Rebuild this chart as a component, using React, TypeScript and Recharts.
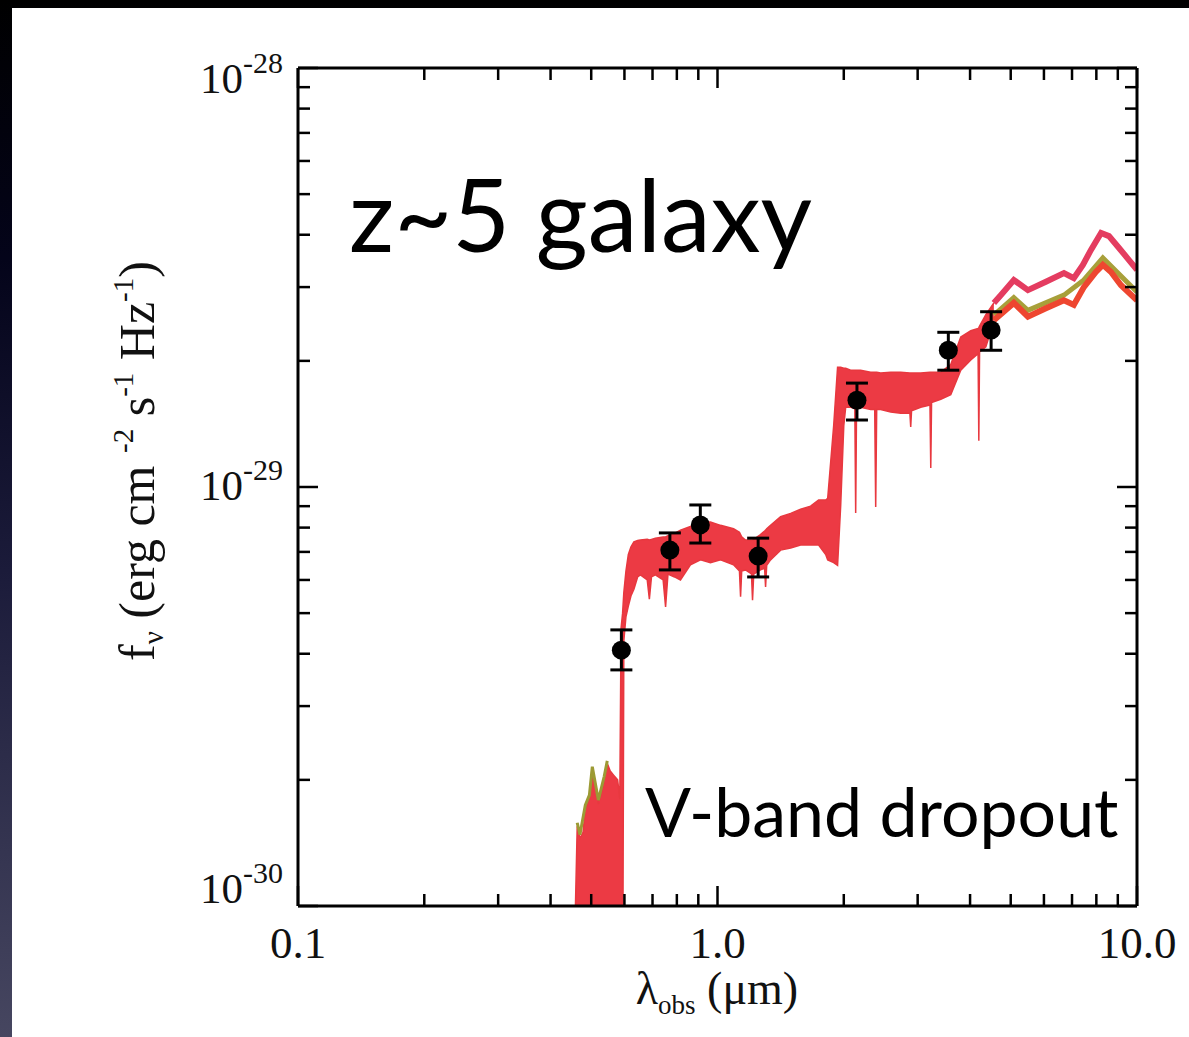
import React from 'react';
import { ComposedChart, XAxis, YAxis, Area, Line, Scatter, ErrorBar } from 'recharts';

// wavelength in microns, flux density in units of 1e-30 erg cm^-2 s^-1 Hz^-1

// envelope of the overlapping model spectra (lower / upper edge)
const bandWave = [
  0.446, 0.455, 0.463, 0.47, 0.478, 0.484, 0.495, 0.503, 0.512, 0.52, 0.528, 0.537, 0.546, 0.555,
  0.566, 0.578, 0.585, 0.589, 0.594, 0.598, 0.605, 0.613, 0.622, 0.632, 0.645, 0.655, 0.68, 0.688,
  0.696, 0.711, 0.742, 0.752, 0.762, 0.79, 0.816, 0.862, 0.911, 0.962, 1.017, 1.092, 1.128, 1.135,
  1.142, 1.166, 1.205, 1.212, 1.22, 1.266, 1.295, 1.302, 1.31, 1.338, 1.414, 1.494, 1.578, 1.667,
  1.742, 1.811, 1.831, 1.892, 1.933, 1.966, 2.0, 2.021, 2.077, 2.125, 2.135, 2.145, 2.194, 2.318,
  2.37, 2.383, 2.396, 2.449, 2.588, 2.734, 2.875, 2.888, 2.901, 3.051, 3.21, 3.224, 3.238, 3.406,
  3.598, 3.801, 4.016, 4.18, 4.197, 4.214, 4.362, 4.558,
];
const bandLow = [
  0.5, 0.5, 0.5, 0.5, 0.5, 0.5, 0.5, 0.5, 0.5, 0.5, 0.5, 0.5, 0.5, 0.5,
  0.5, 0.5, 0.5, 0.5, 0.5, 4.3, 4.9, 5.2, 5.5, 5.7, 6.1, 6.17, 6.0, 5.4,
  6.1, 6.17, 6.0, 5.17, 6.2, 6.1, 6.0, 6.52, 6.7, 6.6, 6.7, 6.52, 6.3, 5.47,
  6.3, 6.34, 6.2, 5.37, 6.2, 6.34, 6.4, 5.77, 6.5, 6.7, 7.07, 7.15, 7.27, 7.27,
  7.27, 6.9, 6.7, 6.6, 6.5, 9.0, 14.0, 15.5, 15.5, 15.4, 8.67, 15.4, 15.5, 15.3,
  15.3, 8.96, 15.3, 15.3, 15.1, 15.0, 15.0, 13.9, 15.2, 15.5, 15.7, 11.1, 15.9, 16.2,
  16.6, 19.0, 20.1, 20.8, 12.9, 21.0, 21.6, 24.9,
];
const bandHigh = [
  0.5, 0.7, 1.55, 1.45, 1.5, 1.7, 1.8, 2.11, 1.95, 1.75, 1.85, 2.0, 2.19, 2.1,
  2.05, 2.0, 1.8, 4.6, 5.0, 5.6, 6.3, 6.9, 7.2, 7.4, 7.45, 7.47, 7.5, 7.47,
  7.5, 7.55, 7.6, 7.6, 7.65, 7.75, 7.89, 8.05, 8.25, 8.25, 8.1, 7.95, 7.8, 7.7,
  7.6, 7.47, 7.47, 7.47, 7.5, 7.7, 7.85, 7.89, 7.95, 8.1, 8.5, 8.65, 8.85, 9.0,
  9.31, 9.31, 9.4, 14.0, 19.3, 19.3, 19.2, 19.2, 19.0, 19.0, 19.0, 19.0, 19.0, 18.8,
  18.8, 18.8, 18.8, 18.7, 18.8, 18.8, 18.7, 18.7, 18.7, 18.7, 18.8, 18.8, 18.8, 18.8,
  19.6, 22.8, 23.6, 23.9, 24.0, 24.2, 25.8, 27.5,
];

// individual templates where they separate in the mid-infrared
const pinkWave = [4.558, 4.734, 5.086, 5.495, 6.065, 6.697, 7.07, 7.43, 7.767, 8.21, 8.574, 9.06, 9.57, 10.0];
const pinkFlux = [27.5, 28.7, 31.2, 29.5, 30.9, 32.4, 31.5, 33.9, 36.8, 40.4, 39.7, 37.2, 34.8, 33.0];
const orangeWave = [4.558, 5.086, 5.495, 6.065, 6.697, 7.07, 7.47, 7.98, 8.29, 8.67, 9.16, 10.0];
const orangeFlux = [25.0, 27.5, 25.5, 26.7, 27.9, 27.2, 30.0, 32.6, 33.9, 32.6, 30.3, 27.9];
const oliveWave = [4.558, 5.086, 5.495, 6.697, 7.47, 8.29, 10.0];
const oliveFlux = [25.7, 28.3, 26.4, 28.7, 31.2, 35.2, 29.2];

// olive template peeking out above the red ones in the UV
const oliveUvWave = [0.463, 0.47, 0.484, 0.495, 0.503, 0.52, 0.537, 0.546];
const oliveUvFlux = [1.58, 1.48, 1.74, 1.84, 2.15, 1.79, 2.04, 2.22];

// photometry
const photWave = [0.59, 0.77, 0.91, 1.25, 2.15, 3.55, 4.49];
const photFlux = [4.08, 7.07, 8.12, 6.84, 16.1, 21.2, 23.7];
const photErrLow = [0.42, 0.73, 0.77, 0.74, 1.65, 2.2, 2.5];
const photErrHigh = [0.48, 0.7, 0.94, 0.71, 1.6, 2.2, 2.5];

const xTicks = [0.1, 0.2, 0.3, 0.4, 0.5, 0.6, 0.7, 0.8, 0.9, 1, 2, 3, 4, 5, 6, 7, 8, 9, 10];
const xMajor = [0.1, 1, 10];
const xLabels = ['0.1', '1.0', '10.0'];
const yTicks = [1, 2, 3, 4, 5, 6, 7, 8, 9, 10, 20, 30, 40, 50, 60, 70, 80, 90, 100];
const yMajor = [1, 10, 100];
const yExponents = ['-30', '-29', '-28'];

const band = bandWave.map((wl, i) => ({ wl, range: [bandLow[i], bandHigh[i]] }));
const toLine = (w: number[], f: number[]) => w.map((wl, i) => ({ wl, f: f[i] }));
const phot = photWave.map((wl, i) => ({ wl, f: photFlux[i], err: [photErrLow[i], photErrHigh[i]] }));

const SERIF = '"Liberation Serif", "Times New Roman", serif';
const SANS = 'Lato, "Open Sans", sans-serif';

const XTick = (props: any) => {
  const { x, y, payload, side } = props;
  const idx = xMajor.indexOf(payload.value);
  const len = idx >= 0 ? 20 : 12;
  const dir = side === 'top' ? 1 : -1;
  return (
    <g>
      <line x1={x} y1={y} x2={x} y2={y + dir * len} stroke="#000" strokeWidth={2.5} />
      {side === 'bottom' && idx >= 0 && (
        <text x={x} y={y + 52} textAnchor="middle" fontFamily={SERIF} fontSize={45} fill="#111">
          {xLabels[idx]}
        </text>
      )}
    </g>
  );
};

const YTick = (props: any) => {
  const { x, y, payload, side } = props;
  const idx = yMajor.indexOf(payload.value);
  const len = idx >= 0 ? 20 : 12;
  const dir = side === 'right' ? -1 : 1;
  // labels at the ends are kept inside the axis range
  const dy = [-3, 13, 25][idx] ?? 0;
  return (
    <g>
      <line x1={x} y1={y} x2={x + dir * len} y2={y} stroke="#000" strokeWidth={2.5} />
      {side === 'left' && idx >= 0 && (
        <text x={x - 15} y={y + dy} textAnchor="end" fontFamily={SERIF} fontSize={43} fill="#111">
          10
          <tspan fontSize={30} dy={-20}>
            {yExponents[idx]}
          </tspan>
        </text>
      )}
    </g>
  );
};

const axisLine = { stroke: '#000', strokeWidth: 3 };

export default function App() {
  return (
    <div
      style={{
        position: 'absolute',
        left: 0,
        top: 0,
        width: 1189,
        height: 1037,
        overflow: 'hidden',
        background: 'linear-gradient(180deg, #000 0%, #04041a 25%, #1b1b3a 55%, #464660 100%)',
      }}
    >
      <div style={{ position: 'absolute', left: 12, top: 8, right: 0, bottom: 0, background: '#fff' }} />
      <div style={{ position: 'absolute', left: 0, top: 0 }}>
        <ComposedChart width={1189} height={1037} margin={{ top: 67, right: 51, bottom: 130, left: 297 }}>
          <XAxis
            xAxisId="bottom"
            dataKey="wl"
            type="number"
            scale="log"
            domain={[0.1, 10]}
            allowDataOverflow
            ticks={xTicks}
            interval={0}
            height={1}
            tickSize={0}
            tickMargin={0}
            tickLine={false}
            axisLine={axisLine}
            tick={(p: any) => <XTick {...p} side="bottom" />}
          />
          <XAxis
            xAxisId="top"
            orientation="top"
            dataKey="wl"
            type="number"
            scale="log"
            domain={[0.1, 10]}
            allowDataOverflow
            ticks={xTicks}
            interval={0}
            height={1}
            tickSize={0}
            tickMargin={0}
            tickLine={false}
            axisLine={axisLine}
            tick={(p: any) => <XTick {...p} side="top" />}
          />
          <YAxis
            yAxisId="left"
            dataKey="f"
            type="number"
            scale="log"
            domain={[1, 100]}
            allowDataOverflow
            ticks={yTicks}
            interval={0}
            width={1}
            tickSize={0}
            tickMargin={0}
            tickLine={false}
            axisLine={axisLine}
            tick={(p: any) => <YTick {...p} side="left" />}
          />
          <YAxis
            yAxisId="right"
            orientation="right"
            dataKey="f"
            type="number"
            scale="log"
            domain={[1, 100]}
            allowDataOverflow
            ticks={yTicks}
            interval={0}
            width={1}
            tickSize={0}
            tickMargin={0}
            tickLine={false}
            axisLine={axisLine}
            tick={(p: any) => <YTick {...p} side="right" />}
          />

          <Area
            xAxisId="bottom"
            yAxisId="left"
            data={band}
            dataKey="range"
            type="linear"
            stroke="#e8383f"
            strokeWidth={1.5}
            fill="#ec3a44"
            fillOpacity={1}
            isAnimationActive={false}
          />
          <Line
            xAxisId="bottom"
            yAxisId="left"
            data={toLine(oliveUvWave, oliveUvFlux)}
            dataKey="f"
            type="linear"
            stroke="#9c9a34"
            strokeWidth={3}
            dot={false}
            isAnimationActive={false}
          />
          <Line
            xAxisId="bottom"
            yAxisId="left"
            data={toLine(pinkWave, pinkFlux)}
            dataKey="f"
            type="linear"
            stroke="#e43c60"
            strokeWidth={6}
            dot={false}
            isAnimationActive={false}
          />
          <Line
            xAxisId="bottom"
            yAxisId="left"
            data={toLine(oliveWave, oliveFlux)}
            dataKey="f"
            type="linear"
            stroke="#a8a03a"
            strokeWidth={5}
            dot={false}
            isAnimationActive={false}
          />
          <Line
            xAxisId="bottom"
            yAxisId="left"
            data={toLine(orangeWave, orangeFlux)}
            dataKey="f"
            type="linear"
            stroke="#ee4630"
            strokeWidth={6}
            dot={false}
            isAnimationActive={false}
          />
          <Scatter
            xAxisId="bottom"
            yAxisId="left"
            data={phot}
            dataKey="f"
            isAnimationActive={false}
            shape={(p: any) => <circle cx={p.cx} cy={p.cy} r={9.5} fill="#000" />}
          >
            <ErrorBar dataKey="err" direction="y" width={11} stroke="#000" strokeWidth={3} isAnimationActive={false} />
          </Scatter>
        </ComposedChart>
      </div>

      <svg width={1189} height={1037} style={{ position: 'absolute', left: 0, top: 0, pointerEvents: 'none' }}>
        <text x={717} y={1004} textAnchor="middle" fontFamily={SERIF} fontSize={46} fill="#111">
          λ<tspan fontSize={27} dy={10}>obs</tspan>
          <tspan dy={-10}> (μm)</tspan>
        </text>
        <text
          x={154}
          y={461}
          transform="rotate(-90 154 461)"
          textAnchor="middle"
          fontFamily={SERIF}
          fontSize={50}
          fill="#111"
        >
          f<tspan fontSize={29} dy={9}>ν</tspan>
          <tspan dy={-9}> (erg cm </tspan>
          <tspan fontSize={29} dy={-21}>-2</tspan>
          <tspan dy={21}> s</tspan>
          <tspan fontSize={29} dy={-21}>-1</tspan>
          <tspan dy={21}> Hz</tspan>
          <tspan fontSize={29} dy={-21}>-1</tspan>
          <tspan dy={21}>)</tspan>
        </text>
        <text x={349} y={252} fontFamily={SANS} fontSize={100} fill="#000">
          z~5 galaxy
        </text>
        <text x={645} y={837} fontFamily={SANS} fontSize={68} fill="#000">
          V-band dropout
        </text>
      </svg>
    </div>
  );
}
